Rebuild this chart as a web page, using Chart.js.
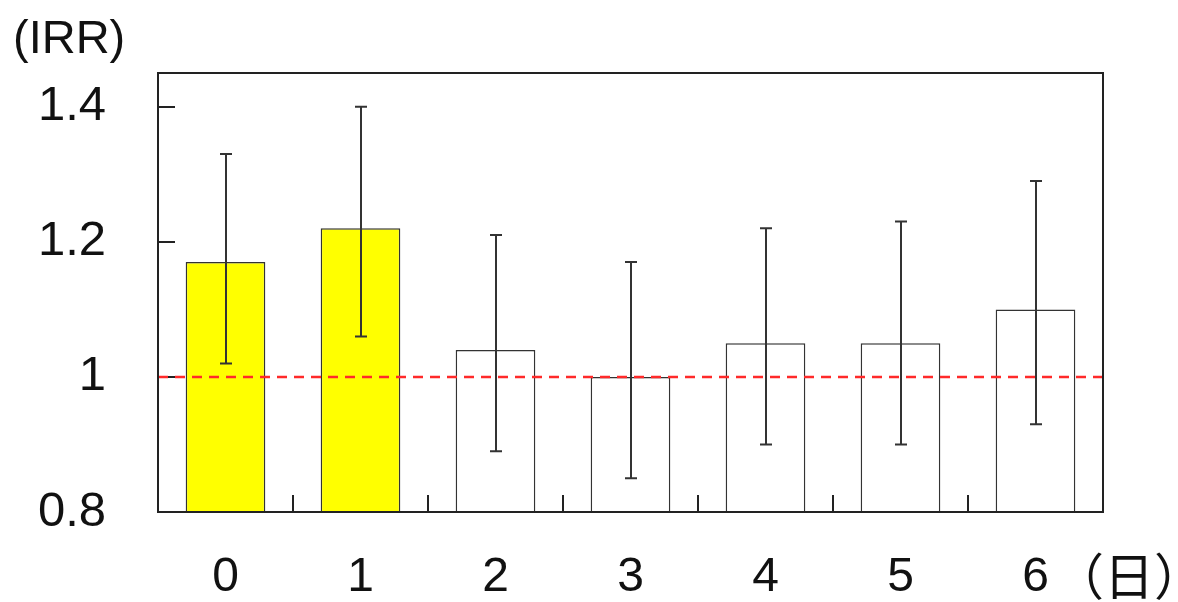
<!DOCTYPE html>
<html>
<head>
<meta charset="utf-8">
<style>
	html, body { margin: 0; padding: 0; background: #ffffff; }
	#wrap { width: 1178px; height: 602px; position: relative; }
</style>
<script src="https://cdn.jsdelivr.net/npm/chart.js@4.4.1/dist/chart.umd.min.js"></script>
</head>
<body>
<div id="wrap"><canvas id="irrChart"></canvas></div>
<script>
const days = ["0", "1", "2", "3", "4", "5", "6"];
const irr = [1.17, 1.22, 1.04, 1.00, 1.05, 1.05, 1.10];
const ciLower = [1.02, 1.06, 0.89, 0.85, 0.90, 0.90, 0.93];
const ciUpper = [1.33, 1.40, 1.21, 1.17, 1.22, 1.23, 1.29];
const yTicks = [0.8, 1.0, 1.2, 1.4];
const referenceValue = 1.0;

const FONT = "'Liberation Sans', Arial, sans-serif";

function isSignificant(index) {
	return ciLower[index] > referenceValue;
}

// frame, inward ticks, reference line, error bars and labels
const decorPlugin = {
	id: "decor",
	afterDatasetsDraw: function (chart) {
		const ctx = chart.ctx;
		const area = chart.chartArea;
		const x = chart.scales.x;
		const y = chart.scales.y;

		ctx.save();
		ctx.strokeStyle = "#222222";
		ctx.lineWidth = 2;

		// y ticks pointing in
		yTicks.forEach(function (value) {
			const py = Math.round(y.getPixelForValue(value));
			ctx.beginPath();
			ctx.moveTo(area.left, py);
			ctx.lineTo(area.left + 17, py);
			ctx.stroke();
		});

		// x ticks between categories
		for (let i = 1; i < days.length; i++) {
			const px = Math.round((x.getPixelForValue(i - 1) + x.getPixelForValue(i)) / 2);
			ctx.beginPath();
			ctx.moveTo(px, area.bottom);
			ctx.lineTo(px, area.bottom - 17);
			ctx.stroke();
		}

		// reference line
		const refY = y.getPixelForValue(referenceValue);
		ctx.strokeStyle = "#ff2a2a";
		ctx.lineWidth = 2.5;
		ctx.setLineDash([10, 7]);
		ctx.beginPath();
		ctx.moveTo(area.left, refY);
		ctx.lineTo(area.right, refY);
		ctx.stroke();
		ctx.setLineDash([]);

		// error bars
		ctx.strokeStyle = "#333333";
		ctx.lineWidth = 2;
		days.forEach(function (day, i) {
			const px = Math.round(x.getPixelForValue(i));
			const top = y.getPixelForValue(ciUpper[i]);
			const bottom = y.getPixelForValue(ciLower[i]);
			ctx.beginPath();
			ctx.moveTo(px, top);
			ctx.lineTo(px, bottom);
			ctx.moveTo(px - 6, top);
			ctx.lineTo(px + 6, top);
			ctx.moveTo(px - 6, bottom);
			ctx.lineTo(px + 6, bottom);
			ctx.stroke();
		});

		// frame
		ctx.strokeStyle = "#222222";
		ctx.lineWidth = 2;
		ctx.strokeRect(area.left, area.top, area.right - area.left, area.bottom - area.top);

		// unit labels
		ctx.fillStyle = "#111111";
		ctx.font = "47px " + FONT;
		ctx.textAlign = "left";
		ctx.textBaseline = "middle";
		ctx.fillText("(IRR)", 13, 40);

		ctx.font = "50px 'Noto Sans CJK JP', sans-serif";
		ctx.fillText("（日）", 1054, 576);
		ctx.restore();
	}
};

new Chart(document.getElementById("irrChart"), {
	type: "bar",
	data: {
		labels: days,
		datasets: [
			{
				label: "IRR",
				data: irr,
				backgroundColor: function (context) {
					return isSignificant(context.dataIndex) ? "#ffff00" : "#ffffff";
				},
				borderColor: "#333333",
				borderWidth: 1.5,
				borderSkipped: false,
				barPercentage: 0.59,
				categoryPercentage: 1
			}
		]
	},
	options: {
		responsive: true,
		maintainAspectRatio: false,
		animation: false,
		layout: {
			padding: { top: 73, right: 75, bottom: 0, left: 0 }
		},
		plugins: {
			legend: { display: false },
			tooltip: { enabled: false }
		},
		scales: {
			x: {
				grid: { display: false, drawTicks: false },
				border: { display: false },
				ticks: {
					color: "#111111",
					font: { family: FONT, size: 48 },
					padding: 37
				},
				afterFit: function (axis) {
					axis.height = 90;
					axis.paddingLeft = 0;
					axis.paddingRight = 0;
				}
			},
			y: {
				min: 0.8,
				max: 1.45,
				grid: { display: false, drawTicks: false },
				border: { display: false },
				ticks: {
					color: "#111111",
					font: { family: FONT, size: 49 },
					padding: 52,
					callback: function (value) {
						return String(Number(value.toFixed(2)));
					}
				},
				afterBuildTicks: function (axis) {
					axis.ticks = yTicks.map(function (value) {
						return { value: value };
					});
				},
				afterFit: function (axis) {
					axis.width = 158;
					axis.paddingTop = 0;
					axis.paddingBottom = 0;
				}
			}
		}
	},
	plugins: [decorPlugin]
});
</script>
</body>
</html>
